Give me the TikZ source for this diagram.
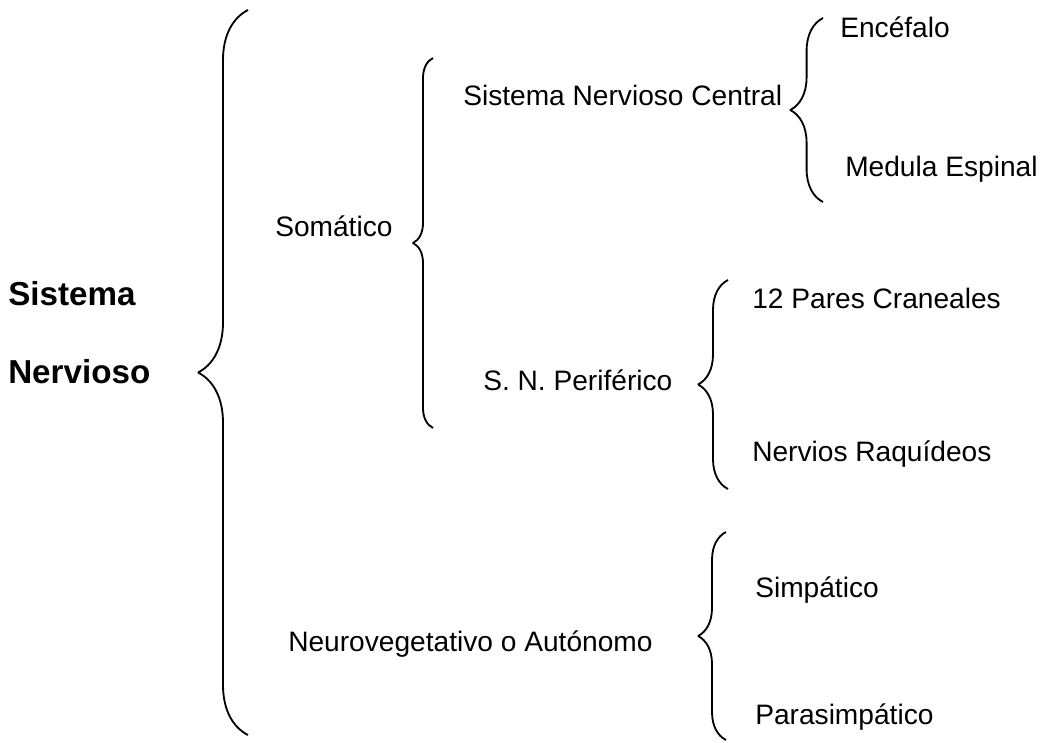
\documentclass[tikz,border=0pt]{standalone}
\usepackage{fontspec}
\setmainfont{Liberation Sans}
\usetikzlibrary{decorations.pathreplacing}

\begin{document}
\begin{tikzpicture}[x=0.025cm,y=-0.025cm,line join=bevel,
  brc/.style={decorate,decoration={brace,amplitude=#1},line width=1.3pt},
  lbl/.style={anchor=base west,inner sep=0pt,font=\fontsize{20}{24}\selectfont},
  ttl/.style={anchor=base west,inner sep=0pt,font=\fontsize{23.6}{28}\selectfont\bfseries}]

\useasboundingbox (0,0) rectangle (1056,742);

\node[ttl] (sistema) at (8,305) {Sistema};
\node[ttl] (nervioso) at (8,383) {Nervioso};

\node[lbl] (somatico) at (275,236) {Somático};
\node[lbl] (neuroveg) at (288,651) {Neurovegetativo o Autónomo};

\node[lbl] (snc) at (463,105) {Sistema Nervioso Central};
\node[lbl] (snp) at (483,390) {S. N. Periférico};

\node[lbl] (encefalo) at (840,38) {Encéfalo};
\node[lbl] (medula) at (845,176) {Medula Espinal};

\node[lbl] (pares) at (752,308) {12 Pares Craneales};
\node[lbl] (raquideos) at (752,461) {Nervios Raquídeos};

\node[lbl] (simpatico) at (755,597) {Simpático};
\node[lbl] (parasimpatico) at (755,724) {Parasimpático};

% llaves
\coordinate (sn top) at (248,10);   \coordinate (sn bot) at (248,735);
\coordinate (so top) at (433,58);   \coordinate (so bot) at (433,428);
\coordinate (c top) at (823,18);    \coordinate (c bot) at (823,202);
\coordinate (p top) at (728,280);   \coordinate (p bot) at (728,489);
\coordinate (n top) at (726,532);   \coordinate (n bot) at (726,740);

\draw[brc=1.25cm] (sn bot) -- (sn top);
\draw[brc=0.5cm] (so bot) -- (so top);
\draw[brc=0.82cm] (c bot) -- (c top);
\draw[brc=0.75cm] (p bot) -- (p top);
\draw[brc=0.7cm] (n bot) -- (n top);

\end{tikzpicture}
\end{document}
